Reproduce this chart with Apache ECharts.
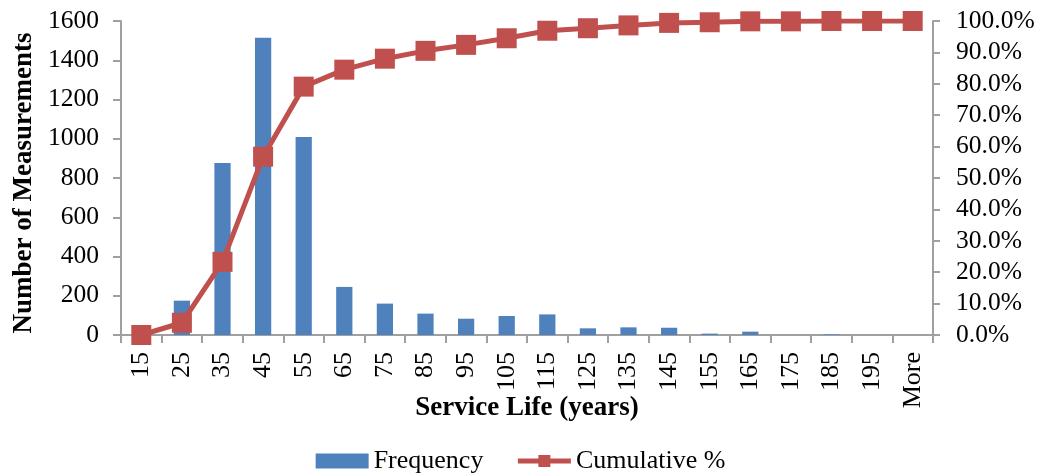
<!DOCTYPE html>
<html>
<head>
<meta charset="utf-8">
<script src="https://cdn.jsdelivr.net/npm/echarts@6/dist/echarts.min.js"></script>
<style>
  html, body { margin: 0; padding: 0; background: #fff; }
  #chart { width: 1041px; height: 476px; }
</style>
</head>
<body>
<div id="chart"></div>
<script>
// Service life histogram: bin labels, counts per bin, and running cumulative share (%)
const bins = ['15', '25', '35', '45', '55', '65', '75', '85', '95', '105',
  '115', '125', '135', '145', '155', '165', '175', '185', '195', 'More'];
const frequency = [0, 175, 876, 1515, 1009, 245, 160, 109, 83, 97,
  105, 34, 39, 37, 7, 17, 0, 3, 0, 0];
const cumulativePct = [0, 3.9, 23.3, 56.8, 79.1, 84.5, 88.0, 90.5, 92.4, 94.5,
  96.9, 97.7, 98.6, 99.4, 99.6, 99.9, 99.9, 100, 100, 100];

const FONT = '"Liberation Serif", "Times New Roman", serif';
const AXIS_GRAY = '#a0a0a0';
const BAR_BLUE = '#4f81bd';
const LINE_RED = '#c0504d';

const chart = echarts.init(document.getElementById('chart'), null, { renderer: 'canvas' });

chart.setOption({
  animation: false,
  backgroundColor: '#ffffff',
  textStyle: { fontFamily: FONT, color: '#000' },
  grid: { left: 121, right: 108, top: 21, bottom: 141, containLabel: false },
  legend: {
    top: 443,
    left: 'center',
    itemGap: 32,
    itemWidth: 53,
    itemHeight: 15,
    textStyle: { fontFamily: FONT, fontSize: 26, color: '#000' },
    data: [
      { name: 'Frequency', icon: 'rect' },
      { name: 'Cumulative %', lineStyle: { width: 5, color: LINE_RED }, itemStyle: { color: LINE_RED } }
    ]
  },
  xAxis: {
    type: 'category',
    data: bins,
    boundaryGap: true,
    name: 'Service Life (years)',
    nameLocation: 'middle',
    nameGap: 60,
    nameMoveOverlap: false,
    nameTextStyle: { fontFamily: FONT, fontSize: 27, fontWeight: 'bold', color: '#000' },
    axisLine: { lineStyle: { color: AXIS_GRAY, width: 2 } },
    axisTick: { show: true, alignWithLabel: false, length: 8, lineStyle: { color: AXIS_GRAY, width: 2 } },
    axisLabel: { rotate: 90, fontFamily: FONT, fontSize: 26, color: '#000', margin: 17, interval: 0 },
    splitLine: { show: false }
  },
  yAxis: [
    {
      type: 'value',
      min: 0,
      max: 1600,
      interval: 200,
      name: 'Number of Measurements',
      nameLocation: 'middle',
      nameGap: 83,
      nameMoveOverlap: false,
      nameRotate: 90,
      nameTextStyle: { fontFamily: FONT, fontSize: 27, fontWeight: 'bold', color: '#000', padding: [0, 10, 0, 0] },
      axisLine: { show: true, lineStyle: { color: AXIS_GRAY, width: 2 } },
      axisTick: { show: true, length: 8, lineStyle: { color: AXIS_GRAY, width: 2 } },
      axisLabel: { fontFamily: FONT, fontSize: 25.5, color: '#000', margin: 22, formatter: v => String(v) },
      splitLine: { show: false }
    },
    {
      type: 'value',
      min: 0,
      max: 100,
      interval: 10,
      position: 'right',
      axisLine: { show: true, lineStyle: { color: AXIS_GRAY, width: 2 } },
      axisTick: { show: true, length: 7, lineStyle: { color: AXIS_GRAY, width: 2 } },
      axisLabel: {
        fontFamily: FONT, fontSize: 25.5, color: '#000', margin: 23,
        formatter: v => v.toFixed(1) + '%'
      },
      splitLine: { show: false }
    }
  ],
  series: [
    {
      name: 'Frequency',
      type: 'bar',
      data: frequency,
      yAxisIndex: 0,
      barWidth: '40%',
      itemStyle: { color: BAR_BLUE },
      z: 2
    },
    {
      name: 'Cumulative %',
      type: 'line',
      data: cumulativePct,
      yAxisIndex: 1,
      symbol: 'rect',
      symbolSize: 20,
      lineStyle: { color: LINE_RED, width: 5 },
      itemStyle: { color: LINE_RED },
      z: 3
    }
  ]
});
</script>
</body>
</html>
